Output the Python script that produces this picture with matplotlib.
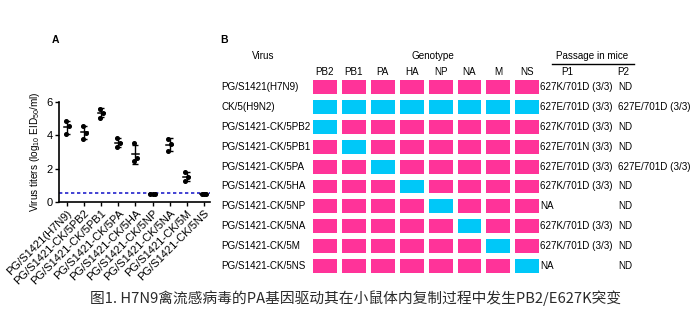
import matplotlib
matplotlib.use("Agg")
import matplotlib.pyplot as plt
import numpy as np

plt.rcParams["font.family"] = ["Liberation Sans", "DejaVu Sans"]
plt.rcParams["mathtext.fontset"] = "custom"
plt.rcParams["mathtext.rm"] = "Liberation Sans"
plt.rcParams["mathtext.it"] = "Liberation Sans:italic"

# --- panel A: titers of the reassortants (three mice each) ---
strains = ["PG/S1421(H7N9)", "PG/S1421-CK/5PB2", "PG/S1421-CK/5PB1",
           "PG/S1421-CK/5PA", "PG/S1421-CK/5HA", "PG/S1421-CK/5NP",
           "PG/S1421-CK/5NA", "PG/S1421-CK/5M", "PG/S1421-CK/5NS"]
titers = [
    [4.85, 4.55, 4.07],
    [4.57, 4.15, 3.81],
    [5.60, 5.37, 5.07],
    [3.82, 3.55, 3.31],
    [3.52, 2.62, 2.48],
    [0.5, 0.5, 0.5],
    [3.80, 3.50, 3.05],
    [1.78, 1.52, 1.26],
    [0.5, 0.5, 0.5],
]
detection_limit = 0.55

# --- panel B: genotype constellation, 1 = segment from CK/5(H9N2) ---
segments = ["PB2", "PB1", "PA", "HA", "NP", "NA", "M", "NS"]
viruses = ["PG/S1421(H7N9)", "CK/5(H9N2)", "PG/S1421-CK/5PB2",
           "PG/S1421-CK/5PB1", "PG/S1421-CK/5PA", "PG/S1421-CK/5HA",
           "PG/S1421-CK/5NP", "PG/S1421-CK/5NA", "PG/S1421-CK/5M",
           "PG/S1421-CK/5NS"]
genotype = [
    [0, 0, 0, 0, 0, 0, 0, 0],
    [1, 1, 1, 1, 1, 1, 1, 1],
    [1, 0, 0, 0, 0, 0, 0, 0],
    [0, 1, 0, 0, 0, 0, 0, 0],
    [0, 0, 1, 0, 0, 0, 0, 0],
    [0, 0, 0, 1, 0, 0, 0, 0],
    [0, 0, 0, 0, 1, 0, 0, 0],
    [0, 0, 0, 0, 0, 1, 0, 0],
    [0, 0, 0, 0, 0, 0, 1, 0],
    [0, 0, 0, 0, 0, 0, 0, 1],
]
passage_p1 = ["627K/701D (3/3)", "627E/701D (3/3)", "627K/701D (3/3)",
              "627E/701N (3/3)", "627E/701D (3/3)", "627K/701D (3/3)", "NA",
              "627K/701D (3/3)", "627K/701D (3/3)", "NA"]
passage_p2 = ["ND", "627E/701D (3/3)", "ND", "ND", "627E/701D (3/3)", "ND",
              "ND", "ND", "ND", "ND"]

PINK = "#ff3399"
CYAN = "#00c8f8"
FS = 7.1      # panel B text
FSA = 8.0     # panel A tick labels

fig = plt.figure(figsize=(7.0, 3.3), dpi=100)

# ---------------- panel A ----------------
axA = fig.add_axes([59 / 700, 1 - 202 / 330, 151 / 700, 100 / 330])
jitter = [-0.08, 0.10, -0.08]
flat_jitter = [-0.12, 0.0, 0.12]
for i, vals in enumerate(titers):
    vals = np.array(vals)
    offs = flat_jitter if np.ptp(vals) == 0 else jitter
    axA.plot(i + np.array(offs), vals, "o", color="black", ms=2.6, zorder=3)
    m, sd = vals.mean(), vals.std(ddof=1)
    if sd > 0:
        axA.errorbar(i, m, yerr=sd, fmt="none", ecolor="black", elinewidth=1.0,
                     capsize=2.3, capthick=1.0, zorder=2)
    axA.plot([i - 0.2, i + 0.2], [m, m], color="black", lw=1.1, zorder=2)

axA.axhline(detection_limit, color="#2222cc", lw=1.2, ls=(0, (2, 1.6)), zorder=1)
axA.set_xlim(-0.47, 8.36)
axA.set_ylim(0, 6)
axA.set_yticks([0, 2, 4, 6])
axA.set_xticks(range(len(strains)))
axA.set_xticklabels(strains, rotation=45, ha="right", rotation_mode="anchor",
                    fontsize=FSA)
axA.tick_params(axis="y", labelsize=FSA, length=3, width=1.0, pad=1.5)
axA.tick_params(axis="x", length=3, width=1.0, pad=1.5)
for s in ["top", "right"]:
    axA.spines[s].set_visible(False)
for s in ["left", "bottom"]:
    axA.spines[s].set_linewidth(1.2)
axA.set_ylabel(r"Virus titers (log$_{10}$ EID$_{50}$/ml)", fontsize=7.2, labelpad=3)

fig.text(55 / 700, 1 - 40 / 330, "A", fontsize=7.5, fontweight="bold",
         ha="center", va="center")
fig.text(224 / 700, 1 - 40 / 330, "B", fontsize=7.5, fontweight="bold",
         ha="center", va="center")

# ---------------- panel B ----------------
# axes spans the figure; x is in segment columns, y in virus rows
axB = fig.add_axes([0, 0, 1, 1], facecolor="none")
col_px, col_step = 325, 28.9
row_px, row_step = 87, 19.9
axB.set_xlim(-col_px / col_step, (700 - col_px) / col_step)
axB.set_ylim((330 - row_px) / row_step, -row_px / row_step)
axB.axis("off")

geno = np.array(genotype)
for j in range(len(segments)):
    colors = [CYAN if g else PINK for g in geno[:, j]]
    axB.bar(np.full(len(viruses), j), 0.70, bottom=np.arange(len(viruses)) - 0.35,
            width=0.83, color=colors, edgecolor="none")
    axB.text(j, -0.75, segments[j], fontsize=FS, ha="center", va="center")

label_x = (221 - col_px) / col_step
p1_x = (540 - col_px) / col_step
p2_x = (618 - col_px) / col_step
for r, name in enumerate(viruses):
    axB.text(label_x, r, name, fontsize=FS, ha="left", va="center")
    axB.text(p1_x, r, passage_p1[r], fontsize=FS, ha="left", va="center")
    axB.text(p2_x, r, passage_p2[r], fontsize=FS, ha="left", va="center")

head_y = -1.56
axB.text((263 - col_px) / col_step, head_y, "Virus", fontsize=FS, ha="center", va="center")
axB.text((433 - col_px) / col_step, head_y, "Genotype", fontsize=FS, ha="center", va="center")
axB.text((592 - col_px) / col_step, head_y, "Passage in mice", fontsize=FS,
         ha="center", va="center")
axB.plot([(552 - col_px) / col_step, (634 - col_px) / col_step], [-1.16, -1.16],
         color="black", lw=1.0)
axB.text((567 - col_px) / col_step, -0.75, "P1", fontsize=FS, ha="center", va="center")
axB.text((623 - col_px) / col_step, -0.75, "P2", fontsize=FS, ha="center", va="center")

fig.text(0.508, 1 - 298 / 330,
         "图1. H7N9禽流感病毒的PA基因驱动其在小鼠体内复制过程中发生PB2/E627K突变",
         fontsize=10.6, ha="center", va="center", color="#2a2a2a",
         family=["Noto Sans CJK SC", "DejaVu Sans"])

fig.savefig("out.png", dpi=100)
